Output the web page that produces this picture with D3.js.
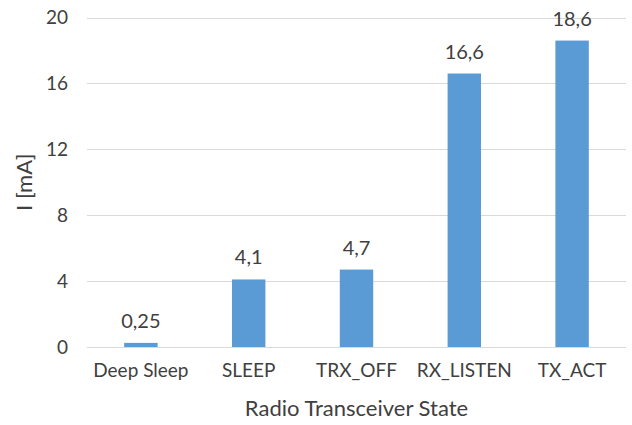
<!DOCTYPE html>
<html>
<head>
<meta charset="utf-8">
<script src="https://cdn.jsdelivr.net/npm/d3@7"></script>
<style>
  html, body { margin: 0; padding: 0; background: #fff; }
  svg text { font-family: Lato, "Open Sans", sans-serif; fill: #404040; }
</style>
</head>
<body>
<svg id="chart" width="632" height="425"></svg>
<script>
// Supply current per radio transceiver state
const states = ["Deep Sleep", "SLEEP", "TRX_OFF", "RX_LISTEN", "TX_ACT"];
const currents = [0.25, 4.1, 4.7, 16.6, 18.6];
const yTicks = [0, 4, 8, 12, 16, 20];

const svg = d3.select("#chart");
const margin = { top: 17.5, right: 6, bottom: 78, left: 87 };
const W = 632, H = 425;

const x = d3.scaleBand()
  .domain(states)
  .range([margin.left, W - margin.right])
  .paddingInner(0.69)
  .paddingOuter(0.345);

const y = d3.scaleLinear()
  .domain([0, 20])
  .range([H - margin.bottom, margin.top]);

const fmt = v => String(v).replace(".", ",");

// gridlines
svg.append("g")
  .selectAll("line")
  .data(yTicks)
  .join("line")
  .attr("x1", margin.left)
  .attr("x2", W - margin.right)
  .attr("y1", d => Math.round(y(d)) + 0.5)
  .attr("y2", d => Math.round(y(d)) + 0.5)
  .attr("stroke", "#d9d9d9")
  .attr("stroke-width", 1);

// y axis labels
const yAxis = d3.axisLeft(y).tickValues(yTicks).tickSize(0).tickPadding(19);
svg.append("g")
  .attr("transform", `translate(${margin.left},0)`)
  .call(yAxis)
  .call(g => g.select(".domain").remove())
  .call(g => g.selectAll("text").attr("font-size", 19).style("font-family", "Lato").attr("fill", "#404040"));

// x axis labels
const xAxis = d3.axisBottom(x).tickSize(0).tickPadding(17);
svg.append("g")
  .attr("transform", `translate(0,${y(0)})`)
  .call(xAxis)
  .call(g => g.select(".domain").remove())
  .call(g => g.selectAll("text").attr("font-size", 19).style("font-family", "Lato").attr("fill", "#404040"));

// bars
svg.append("g")
  .selectAll("rect")
  .data(states)
  .join("rect")
  .attr("x", d => x(d))
  .attr("width", x.bandwidth())
  .attr("y", (d, i) => y(currents[i]))
  .attr("height", (d, i) => y(0) - y(currents[i]))
  .attr("fill", "#5b9bd5");

// value labels
svg.append("g")
  .selectAll("text")
  .data(states)
  .join("text")
  .attr("x", d => x(d) + x.bandwidth() / 2)
  .attr("y", (d, i) => y(currents[i]) - 15)
  .attr("text-anchor", "middle")
  .attr("font-size", 20)
  .text((d, i) => fmt(currents[i]));

// axis titles
svg.append("text")
  .attr("x", (margin.left + W - margin.right) / 2)
  .attr("y", 416)
  .attr("text-anchor", "middle")
  .attr("font-size", 22)
  .text("Radio Transceiver State");

svg.append("text")
  .attr("transform", `translate(32,${(y(0) + y(20)) / 2}) rotate(-90)`)
  .attr("text-anchor", "middle")
  .attr("font-size", 22)
  .text("I [mA]");
</script>
</body>
</html>
